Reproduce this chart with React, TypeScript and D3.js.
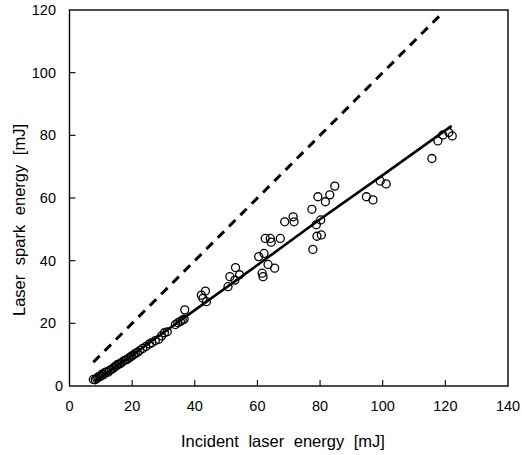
import React from 'react';
import * as d3 from 'd3';

// measured points: incident energy (mJ) vs spark energy (mJ)
const incident = [
  7.6, 8.2, 8.7, 9.1, 9.6, 10.0, 10.4, 10.9, 11.3, 11.8, 12.3, 12.8, 13.4, 14.0, 14.5, 15.0,
  15.4, 15.9, 16.4, 17.0, 17.6, 18.2, 18.8, 19.3, 19.8, 20.4, 21.0, 21.7, 22.5, 23.4, 24.4,
  25.5, 26.3, 27.4, 28.5, 29.4, 30.3, 31.2, 33.8, 34.6, 35.4, 36.0, 36.6, 36.8,
  42.1, 43.4, 43.7, 42.6, 50.6, 51.2, 53.0, 52.8, 54.3,
  60.4, 62.1, 61.5, 61.8, 63.4, 65.5, 62.5, 64.1, 64.4, 67.3, 68.7, 71.4, 71.7,
  77.4, 77.7, 79.3, 80.4, 79.0, 80.2, 78.8, 81.7, 83.1, 84.7,
  94.8, 96.9, 99.2, 101.1, 115.7, 117.6, 119.2, 121.1, 122.2,
];
const spark = [
  2.1, 2.0, 2.4, 2.9, 3.0, 3.2, 3.8, 3.6, 4.3, 4.5, 4.4, 5.0, 5.3, 5.7, 6.2, 6.5,
  6.9, 7.0, 7.3, 7.8, 8.2, 8.4, 8.8, 9.2, 9.5, 9.9, 10.4, 10.7, 11.4, 12.0, 12.6,
  13.4, 13.8, 14.5, 14.9, 16.0, 17.0, 17.3, 19.6, 20.2, 20.6, 21.0, 21.3, 24.3,
  29.0, 30.3, 26.9, 28.0, 31.7, 34.9, 37.8, 33.8, 35.5,
  41.3, 42.3, 36.0, 34.9, 38.8, 37.6, 47.1, 47.1, 45.9, 47.1, 52.4, 54.0, 52.4,
  56.4, 43.6, 60.4, 48.2, 47.8, 53.0, 51.5, 58.8, 61.0, 63.8,
  60.4, 59.4, 65.4, 64.5, 72.6, 78.2, 80.1, 80.9, 79.8,
];

// fitted curve
const fitX = [8, 20, 40, 60, 80, 100, 122];
const fitY = [1.5, 9.8, 24.2, 38.6, 53.2, 67.3, 83.0];

// 1:1 reference line
const refX = [7.6, 118.4];

const xTicks = [0, 20, 40, 60, 80, 100, 120, 140];
const yTicks = [0, 20, 40, 60, 80, 100, 120];

const App = () => {
  const width = 522;
  const height = 455;
  const left = 69.5;
  const right = 508;
  const top = 10;
  const bottom = 386;

  const x = d3.scaleLinear().domain([0, 140]).range([left, right]);
  const y = d3.scaleLinear().domain([0, 120]).range([bottom, top]);

  const line = d3.line<[number, number]>()
    .x(d => x(d[0]))
    .y(d => y(d[1]));

  const fitPath = line(fitX.map((v, i) => [v, fitY[i]] as [number, number])) || '';
  const refPath = line(refX.map(v => [v, v] as [number, number])) || '';

  const font = '"Liberation Sans", Arial, sans-serif';

  return (
    <svg width={width} height={height} style={{ position: 'absolute', left: 0, top: 0 }}>
      <rect x={0} y={0} width={width} height={height} fill="#fff" />
      <rect x={left} y={top} width={right - left} height={bottom - top}
        fill="none" stroke="#000" strokeWidth={1.4} />

      {xTicks.map(t => (
        <g key={'x' + t}>
          {t > 0 && t < 140 && (
            <line x1={x(t)} x2={x(t)} y1={bottom} y2={bottom - 6} stroke="#000" strokeWidth={1.1} />
          )}
          <text x={x(t)} y={411} textAnchor="middle" fontFamily={font} fontSize={14.5}>{t}</text>
        </g>
      ))}

      {yTicks.map(t => (
        <g key={'y' + t}>
          {t > 0 && t < 120 && (
            <line x1={left} x2={left + 6} y1={y(t)} y2={y(t)} stroke="#000" strokeWidth={1.1} />
          )}
          <text x={t === 0 ? 63 : 56} y={y(t) + 5} textAnchor="end" fontFamily={font} fontSize={14.5}>{t}</text>
        </g>
      ))}

      <path d={refPath} fill="none" stroke="#000" strokeWidth={3} strokeDasharray="9,7" />
      <path d={fitPath} fill="none" stroke="#000" strokeWidth={2.6} />

      {incident.map((v, i) => (
        <circle key={i} cx={x(v)} cy={y(spark[i])} r={4}
          fill="none" stroke="#000" strokeWidth={1.3} />
      ))}

      <text x={283} y={447} textAnchor="middle" fontFamily={font} fontSize={16.5} wordSpacing={5}>
        Incident laser energy [mJ]
      </text>
      <text transform="translate(25,220) rotate(-90)" textAnchor="middle" fontFamily={font}
        fontSize={16.5} wordSpacing={5}>
        Laser spark energy [mJ]
      </text>
    </svg>
  );
};

export default App;
